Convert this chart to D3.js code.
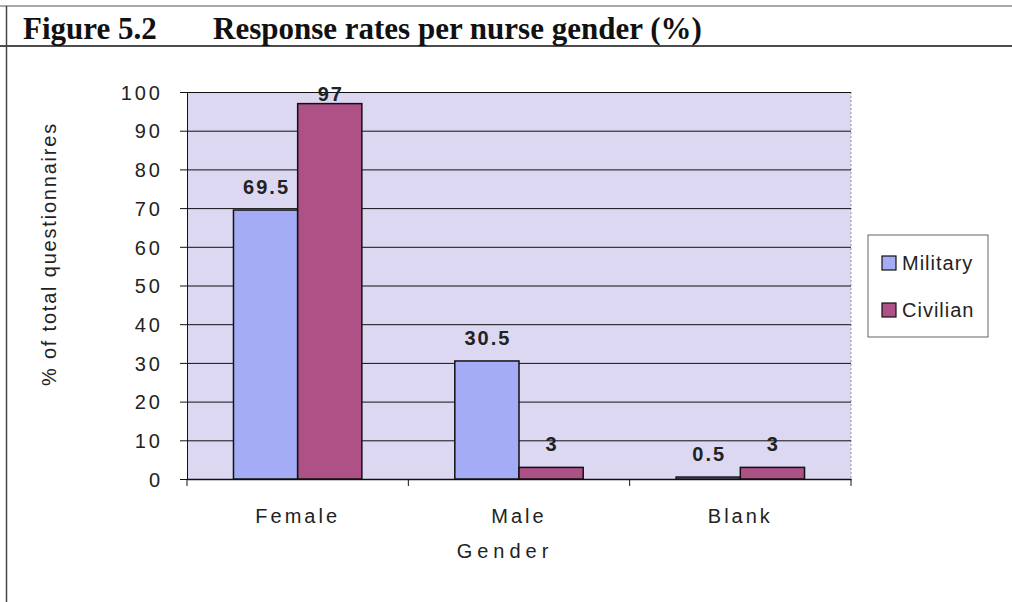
<!DOCTYPE html>
<html><head><meta charset="utf-8">
<script src="https://cdn.jsdelivr.net/npm/d3@7"></script>
<style>
body{margin:0;background:#fff;}
svg{display:block;font-family:Arial,"Liberation Sans",sans-serif;}
</style></head>
<body>
<svg id="chart" width="1012" height="602"></svg>
<script>
const categories = ["Female", "Male", "Blank"];
const seriesNames = ["Military", "Civilian"];
const military = [69.5, 30.5, 0.5];
const civilian = [97, 3, 3];
const yTicks = [0, 10, 20, 30, 40, 50, 60, 70, 80, 90, 100];
const colors = ["#a3acf4", "#ad5187"];

(function () {
const svg = d3.select("#chart");
const pLeft = 187, pRight = 851, pTop = 92, pBottom = 479;
const serif = "'Liberation Serif','Times New Roman',serif";
const sans = "Arial,'Liberation Sans',sans-serif";

// title frame
svg.append("line").attr("x1", 0).attr("x2", 1012).attr("y1", 6).attr("y2", 6).attr("stroke", "#555").attr("stroke-width", 1.2);
svg.append("line").attr("x1", 0).attr("x2", 1012).attr("y1", 46).attr("y2", 46).attr("stroke", "#111").attr("stroke-width", 1.5);
svg.append("line").attr("x1", 6.5).attr("x2", 6.5).attr("y1", 6).attr("y2", 602).attr("stroke", "#444").attr("stroke-width", 1.5);
svg.append("text").attr("x", 23).attr("y", 39).attr("font-family", serif)
  .attr("font-weight", "bold").attr("font-size", 31).attr("fill", "#111").text("Figure 5.2");
svg.append("text").attr("x", 213).attr("y", 39).attr("font-family", serif)
  .attr("font-weight", "bold").attr("font-size", 31).attr("fill", "#111").text("Response rates per nurse gender (%)");

const y = d3.scaleLinear().domain([0, 100]).range([pBottom, pTop]);
const x0 = d3.scaleBand().domain(categories).range([pLeft, pRight]).paddingInner(0.42).paddingOuter(0.21);
const x1 = d3.scaleBand().domain(seriesNames).range([0, x0.bandwidth()]);

// plot background
svg.append("rect").attr("x", pLeft).attr("y", pTop).attr("width", pRight - pLeft).attr("height", pBottom - pTop)
  .attr("fill", "#ddd8f2");
svg.append("line").attr("x1", pRight).attr("x2", pRight).attr("y1", pTop).attr("y2", pBottom)
  .attr("stroke", "#999").attr("stroke-dasharray", "2,2");

// gridlines
svg.append("g").selectAll("line").data(yTicks.filter(d => d > 0)).join("line")
  .attr("x1", pLeft).attr("x2", pRight).attr("y1", d => y(d) + 0.5).attr("y2", d => y(d) + 0.5)
  .attr("stroke", "#111").attr("stroke-width", 1);

// y axis
const yAxis = svg.append("g").attr("transform", `translate(${pLeft},0)`)
  .call(d3.axisLeft(y).tickValues(yTicks).tickSize(7).tickPadding(17));
yAxis.select(".domain").attr("stroke", "#111");
yAxis.selectAll(".tick line").attr("stroke", "#111");
yAxis.selectAll("text").attr("font-size", 20).attr("fill", "#222").attr("font-family", sans)
  .attr("letter-spacing", "3px").attr("dy", "0.36em");

// x axis
const xAxis = svg.append("g").attr("transform", `translate(0,${pBottom})`)
  .call(d3.axisBottom(x0).tickSize(0).tickPadding(30));
xAxis.select(".domain").attr("stroke", "#111").attr("stroke-width", 1.5);
xAxis.selectAll("text").attr("font-size", 20).attr("fill", "#222").attr("letter-spacing", "3px")
  .attr("font-family", sans);
// category separators
const sepX = [pLeft, ...categories.slice(1).map(c => (x0(c) - x0.step() * x0.paddingInner() / 2)), pRight];
svg.append("g").selectAll("line").data(sepX).join("line")
  .attr("x1", d => d).attr("x2", d => d).attr("y1", pBottom).attr("y2", pBottom + 7).attr("stroke", "#111");

// bars
const rows = categories.map((c, i) => ({ cat: c, vals: [military[i], civilian[i]] }));
const g = svg.append("g");
rows.forEach(r => {
  r.vals.forEach((v, j) => {
    const bx = x0(r.cat) + x1(seriesNames[j]);
    g.append("rect").attr("x", bx).attr("y", y(v)).attr("width", x1.bandwidth()).attr("height", pBottom - y(v))
      .attr("fill", colors[j]).attr("stroke", "#111").attr("stroke-width", 1.5);
    g.append("text").attr("x", bx + x1.bandwidth() / 2 + 1).attr("y", Math.max(y(v) - 16, pTop + 9))
      .attr("text-anchor", "middle").attr("font-size", 20).attr("font-weight", "bold").attr("fill", "#222")
      .attr("letter-spacing", "2px").text(v);
  });
});

// axis titles
svg.append("text").attr("transform", "translate(56,254) rotate(-90)").attr("text-anchor", "middle")
  .attr("font-size", 20).attr("fill", "#222").attr("letter-spacing", "1.8px").text("% of total questionnaires");
svg.append("text").attr("x", 505).attr("y", 558).attr("text-anchor", "middle")
  .attr("font-size", 20).attr("fill", "#222").attr("letter-spacing", "5px").text("Gender");

// legend
const lg = svg.append("g");
lg.append("rect").attr("x", 868).attr("y", 235).attr("width", 120).attr("height", 102)
  .attr("fill", "#fff").attr("stroke", "#666").attr("stroke-width", 1);
seriesNames.forEach((s, i) => {
  lg.append("rect").attr("x", 882).attr("y", 256 + i * 47).attr("width", 14).attr("height", 14)
    .attr("fill", colors[i]).attr("stroke", "#111").attr("stroke-width", 1.2);
  lg.append("text").attr("x", 902).attr("y", 270 + i * 47).attr("font-size", 20).attr("fill", "#222")
    .attr("letter-spacing", "1px").text(s);
});
})();
</script>
</body></html>
